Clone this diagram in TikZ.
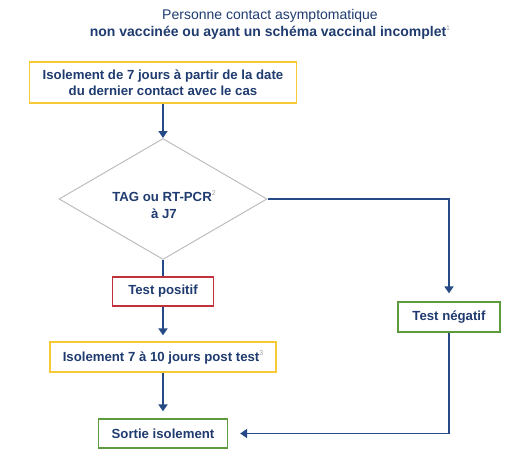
\documentclass[tikz,border=0pt]{standalone}
\usepackage{fontspec}
\setmainfont{Liberation Sans}
\usetikzlibrary{arrows.meta,shapes.geometric}
\definecolor{navy}{HTML}{1F3B6F}
\definecolor{arrowblue}{HTML}{264A85}
\definecolor{boxyellow}{HTML}{F6C936}
\definecolor{boxred}{HTML}{C0313A}
\definecolor{boxgreen}{HTML}{5E9A3E}
\definecolor{diagray}{HTML}{BDBDBD}
\definecolor{supgray}{HTML}{A0A0A0}
\newcommand{\supn}[1]{\raisebox{0.45em}{\textcolor{supgray}{\normalfont\fontsize{7}{7}\selectfont #1}}}
\tikzset{
  x=1pt,y=-1pt,
  box/.style={draw, line width=1.3pt, fill=white, inner sep=0pt, align=center,
    text=navy, font=\bfseries\fontsize{13.2}{16.5}\selectfont},
  conn/.style={draw=arrowblue, line width=1.8pt},
  arr/.style={conn, -{Triangle[width=9pt,length=7pt]}},
}
\begin{document}
\begin{tikzpicture}
\useasboundingbox (0,0) rectangle (530,474);
\node[align=center, text=navy, font=\fontsize{14}{17.5}\selectfont] (title) at (270,24.5)
  {Personne contact asymptomatique\\ \textbf{non vaccinée ou ayant un schéma vaccinal incomplet}\supn{1}};
\node[box, draw=boxyellow, minimum width=267pt, minimum height=41pt] (iso1) at (163,82.5)
  {Isolement de 7 jours à partir de la date\\du dernier contact avec le cas};
\node[shape=diamond, draw=diagray, line width=1pt, aspect=1.73, minimum width=208pt, minimum height=121pt,
  inner sep=0pt] (tag) at (163,199) {};
\node[align=center, text=navy, font=\bfseries\fontsize{13.2}{17}\selectfont] (tagtxt) at (164,205)
  {TAG ou RT-PCR\supn{2}\\à J7};
\node[box, draw=boxred, minimum width=101pt, minimum height=29pt] (pos) at (163,291.5) {Test positif};
\node[box, draw=boxyellow, minimum width=226pt, minimum height=30pt] (iso2) at (163,357) {Isolement 7 à 10 jours post test\supn{3}};
\node[box, draw=boxgreen, minimum width=129pt, minimum height=29pt] (sortie) at (163,433.5) {Sortie isolement};
\node[box, draw=boxgreen, minimum width=102pt, minimum height=30pt] (neg) at (449,317) {Test négatif};
\draw[arr] (iso1.south) -- (tag.north);
\draw[conn] (tag.south) -- (pos.north);
\draw[arr, shorten >=6pt] (pos.south) -- (iso2.north);
\draw[arr, shorten >=7pt] (iso2.south) -- (sortie.north);
\draw[arr, shorten >=8pt] (tag.east) -| (neg.north);
\draw[arr, shorten >=12pt] (neg.south) |- (sortie.east);
\end{tikzpicture}
\end{document}
